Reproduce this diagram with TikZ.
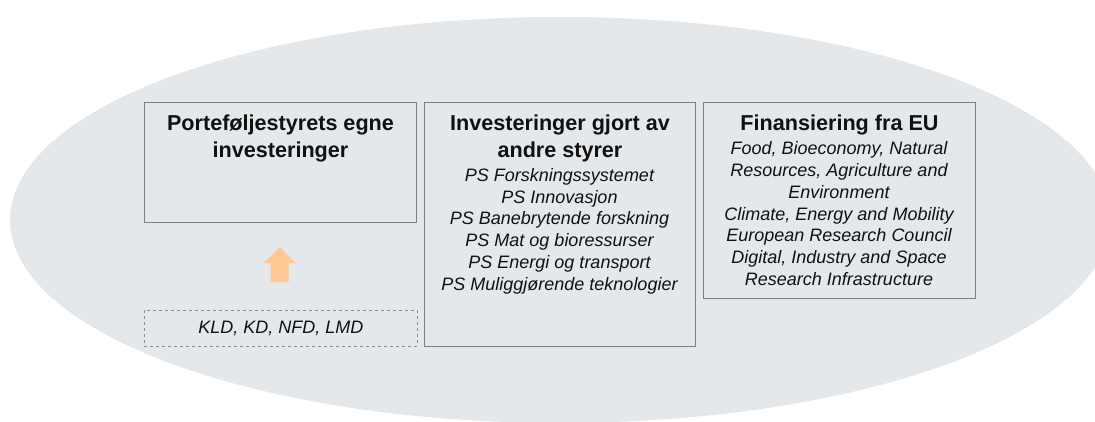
\documentclass[tikz,border=0pt]{standalone}
\usepackage{fontspec}
\setmainfont{Liberation Sans}
\definecolor{ellgray}{HTML}{E4E8EB}
\definecolor{boxline}{HTML}{7F7F7F}
\definecolor{arroworange}{HTML}{FFC793}
\definecolor{ink}{HTML}{111111}
\begin{document}
\begin{tikzpicture}[x=1pt,y=-1pt,
  box/.style={draw=boxline, line width=1pt, inner sep=0pt, anchor=north west},
  titletext/.style={anchor=north, inner sep=0pt, align=center, text=ink, font=\fontsize{21.6}{26.8}\selectfont\bfseries},
  listtext/.style={anchor=north, inner sep=0pt, align=center, text=ink, font=\fontsize{18}{21.8}\selectfont\itshape}]
\useasboundingbox (0,0) rectangle (1095,422);
\begin{scope}
\clip (0,0) rectangle (1095,422);
\fill[ellgray] (560,220) ellipse [x radius=550, y radius=203];
\end{scope}
% boxes
\node[box, minimum width=272pt, minimum height=120pt] (own) at (144,102) {};
\node[box, minimum width=271pt, minimum height=244pt] (other) at (424,102) {};
\node[box, minimum width=272pt, minimum height=196pt] (eu) at (703,102) {};
\node[box, draw=boxline!90, line width=0.8pt, dashed, minimum width=273pt, minimum height=36pt,
      text=ink, font=\fontsize{18}{21.8}\selectfont\itshape] (dep) at (144,310) {KLD, KD, NFD, LMD};
% titles
\node[titletext] (owntitle) at ([yshift=-13pt]own.north) {Porteføljestyrets egne\\investeringer};
\node[titletext] (othertitle) at ([yshift=-13pt]other.north) {Investeringer gjort av\\andre styrer};
\node[titletext] (eutitle) at ([yshift=-13pt]eu.north) {Finansiering fra EU};
% lists
\node[listtext] (otherlist) at (559.5,168) {PS Forskningssystemet\\PS Innovasjon\\PS Banebrytende forskning\\PS Mat og bioressurser\\PS Energi og transport\\PS Muliggjørende teknologier};
\node[listtext] (eulist) at (839,141.5) {Food, Bioeconomy, Natural\\Resources, Agriculture and\\Environment\\Climate, Energy and Mobility\\European Research Council\\Digital, Industry and Space\\Research Infrastructure};
% arrow
\fill[arroworange] (270.5,282) -- (288.5,282) -- (288.5,263) -- (295.5,263) -- (279.5,247) -- (263.5,263) -- (270.5,263) -- cycle;
\end{tikzpicture}
\end{document}
